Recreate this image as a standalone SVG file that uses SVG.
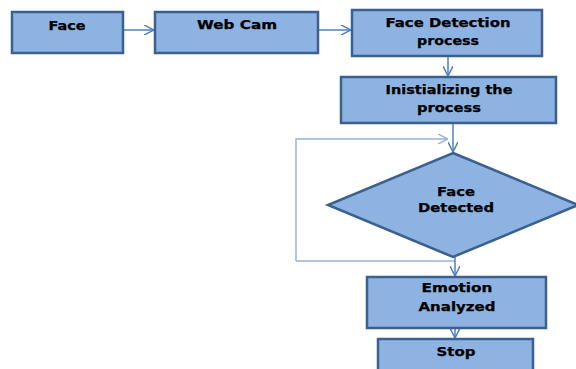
<svg xmlns="http://www.w3.org/2000/svg" width="576" height="369" viewBox="0 0 576 369">
  <style>
    .box { fill: #8db3e2; stroke: #3b5f8e; stroke-width: 2.5; }
    .lbl { font-family: "DejaVu Sans", Verdana, sans-serif; font-weight: bold; font-size: 11.5px; fill: #000; stroke: #000; stroke-width: 0.25; text-anchor: middle; }
    .conn { fill: none; stroke: #4f81bd; stroke-width: 1.5; }
    .loop { fill: none; stroke: #95b3d7; stroke-width: 1.5; }
  </style>
  <defs>
    <marker id="arr" viewBox="0 0 10 10" refX="10" refY="5" markerWidth="10" markerHeight="10" markerUnits="userSpaceOnUse" orient="auto">
      <path d="M0,0 L10,5 L0,10" fill="none" stroke="#4f81bd" stroke-width="1.5"/>
    </marker>
    <marker id="arrL" viewBox="0 0 10 10" refX="10" refY="5" markerWidth="10" markerHeight="10" markerUnits="userSpaceOnUse" orient="auto">
      <path d="M0,0 L10,5 L0,10" fill="none" stroke="#95b3d7" stroke-width="1.5"/>
    </marker>
  </defs>

  <rect width="576" height="369" fill="#ffffff"/>

  <g id="connectors">
    <line class="conn" x1="123" y1="30" x2="154" y2="30" marker-end="url(#arr)"/>
    <line class="conn" x1="318" y1="30" x2="351" y2="30" marker-end="url(#arr)"/>
    <line class="conn" x1="448" y1="56" x2="448" y2="76" marker-end="url(#arr)"/>
    <line class="conn" x1="453" y1="123" x2="453" y2="152" marker-end="url(#arr)"/>
    <polyline class="loop" points="296,261 296,139 448,139" marker-end="url(#arrL)"/>
    <line class="loop" x1="296" y1="261" x2="455" y2="261"/>
    <line class="conn" x1="455" y1="257" x2="455" y2="276" marker-end="url(#arr)"/>
    <line class="conn" x1="455" y1="328" x2="455" y2="338" marker-end="url(#arr)"/>
  </g>

  <g id="face">
    <rect class="box" x="12" y="12" width="111" height="41"/>
    <text class="lbl" x="67" y="30" textLength="37" lengthAdjust="spacingAndGlyphs">Face</text>
  </g>

  <g id="webcam">
    <rect class="box" x="155" y="12" width="163" height="41"/>
    <text class="lbl" x="237" y="29" textLength="80" lengthAdjust="spacingAndGlyphs">Web Cam</text>
  </g>

  <g id="face-detection">
    <rect class="box" x="352" y="10" width="190" height="46"/>
    <text class="lbl" x="448" y="27" textLength="125" lengthAdjust="spacingAndGlyphs">Face Detection</text>
    <text class="lbl" x="448" y="45" textLength="62" lengthAdjust="spacingAndGlyphs">process</text>
  </g>

  <g id="initializing">
    <rect class="box" x="341" y="77" width="215" height="46"/>
    <text class="lbl" x="449" y="94" textLength="127" lengthAdjust="spacingAndGlyphs">Inistializing the</text>
    <text class="lbl" x="449" y="112" textLength="64" lengthAdjust="spacingAndGlyphs">process</text>
  </g>

  <g id="face-detected">
    <polygon class="box" points="453,153 578,205 453,257 328,205"/>
    <text class="lbl" x="456" y="196" textLength="38" lengthAdjust="spacingAndGlyphs">Face</text>
    <text class="lbl" x="456" y="212" textLength="76" lengthAdjust="spacingAndGlyphs">Detected</text>
  </g>

  <g id="emotion">
    <rect class="box" x="367" y="277" width="179" height="51"/>
    <text class="lbl" x="457" y="292" textLength="71" lengthAdjust="spacingAndGlyphs">Emotion</text>
    <text class="lbl" x="457" y="311" textLength="77" lengthAdjust="spacingAndGlyphs">Analyzed</text>
  </g>

  <g id="stop">
    <rect class="box" x="378" y="339" width="155" height="40"/>
    <text class="lbl" x="456" y="356" textLength="39" lengthAdjust="spacingAndGlyphs">Stop</text>
  </g>
</svg>
